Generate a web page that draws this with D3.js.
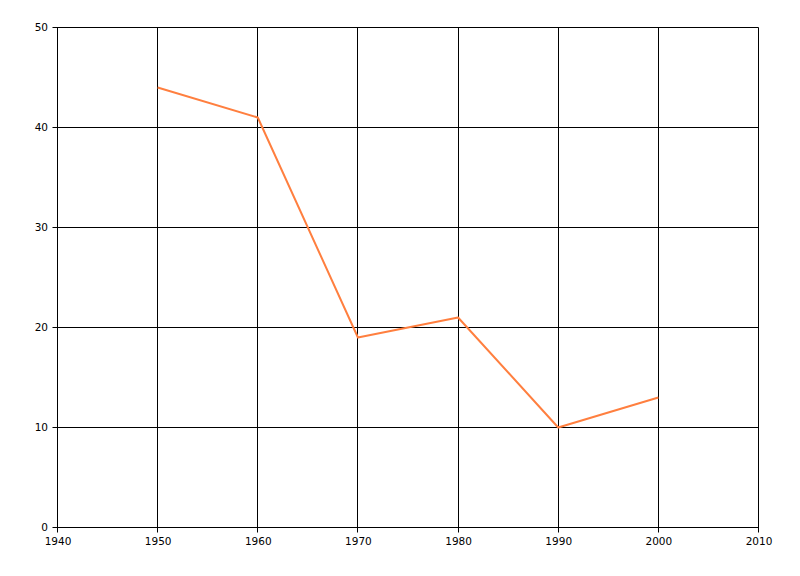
<!DOCTYPE html>
<html><head><meta charset="utf-8">
<script src="https://cdn.jsdelivr.net/npm/d3@7"></script>
<style>body{margin:0;background:#fff;} svg text{font-family:"DejaVu Sans","Liberation Sans",Arial,sans-serif;font-size:10.5px;fill:#000;}</style>
</head><body>
<svg id="c" width="800" height="576"></svg>
<script>
const years = [1950, 1960, 1970, 1980, 1990, 2000];
const values = [44, 41, 19, 21, 10, 13];
const xTicks = [1940, 1950, 1960, 1970, 1980, 1990, 2000, 2010];
const yTicks = [0, 10, 20, 30, 40, 50];

const svg = d3.select("#c");
const x = d3.scaleLinear().domain([1940, 2010]).range([57, 758]);
const y = d3.scaleLinear().domain([0, 50]).range([527, 27]);
const px = v => Math.round(v) + 0.5;

const g = svg.append("g");
g.selectAll(".vg").data(xTicks).enter().append("line")
  .attr("x1", d => px(x(d))).attr("x2", d => px(x(d)))
  .attr("y1", px(y(50))).attr("y2", px(y(0)) + 5)
  .attr("stroke", "#000").attr("stroke-width", 1);
g.selectAll(".hg").data(yTicks).enter().append("line")
  .attr("y1", d => px(y(d))).attr("y2", d => px(y(d)))
  .attr("x1", px(x(1940)) - 5).attr("x2", px(x(2010)))
  .attr("stroke", "#000").attr("stroke-width", 1);
g.selectAll(".xl").data(xTicks).enter().append("text")
  .attr("x", d => x(d) + 1).attr("y", y(0) + 18)
  .attr("text-anchor", "middle").text(d => d);
g.selectAll(".yl").data(yTicks).enter().append("text")
  .attr("x", x(1940) - 9).attr("y", d => y(d) + 4)
  .attr("text-anchor", "end").text(d => d);

const line = d3.line().x((d, i) => x(years[i]) + 0.5).y(d => y(d) + 0.5);
svg.append("path").datum(values).attr("d", line)
  .attr("fill", "none").attr("stroke", "#ff7f3f").attr("stroke-width", 2)
  .attr("stroke-linejoin", "round");
</script>
</body></html>
